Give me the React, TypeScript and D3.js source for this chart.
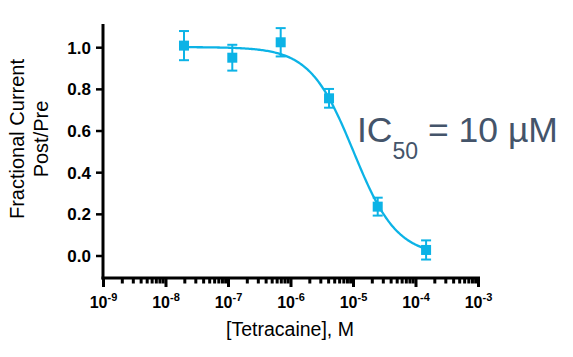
import React from "react";
import * as d3 from "d3";

const concentrations = [1.94e-8, 1.15e-7, 6.84e-7, 4.06e-6, 2.44e-5, 1.45e-4];
const fractions = [1.01, 0.952, 1.026, 0.757, 0.237, 0.029];
const errors = [0.07, 0.062, 0.068, 0.045, 0.043, 0.046];
const yTicks = [0, 0.2, 0.4, 0.6, 0.8, 1.0];
const xExponents = [-9, -8, -7, -6, -5, -4, -3];
const fitTop = 1.003;
const fitBottom = 0;
const fitIC50 = 1e-5;
const fitHill = 1.25;

const W = 573;
const H = 357;
const BLUE = "#0CB3E6";
const FONT = "Arial, 'Liberation Sans', Helvetica, sans-serif";

export default function App() {
  const x = d3.scaleLog().domain([1e-9, 1e-3]).range([103.5, 478.5]);
  const y = d3.scaleLinear().domain([0, 1]).range([256, 47.7]);
  const axisY = 278;
  const axisX = 103;

  const fit = (c: number) => fitBottom + (fitTop - fitBottom) / (1 + Math.pow(c / fitIC50, fitHill));
  const lo = Math.log10(concentrations[0]);
  const hi = Math.log10(concentrations[concentrations.length - 1]);
  const curvePts = d3.range(0, 201).map((i) => {
    const c = Math.pow(10, lo + ((hi - lo) * i) / 200);
    return [x(c), y(fit(c))] as [number, number];
  });
  const line = d3.line().curve(d3.curveLinear)(curvePts) || "";

  const minor: number[] = [];
  for (let k = -9; k < -3; k++) {
    for (let m = 2; m <= 9; m++) minor.push(m * Math.pow(10, k));
  }

  return (
    <svg width={W} height={H} style={{ position: "absolute", left: 0, top: 0, background: "#fff" }} fontFamily={FONT}>
      {/* fit curve */}
      <path d={line} fill="none" stroke={BLUE} strokeWidth={2.3} />
      {/* error bars and markers */}
      {concentrations.map((c, i) => {
        const cx = x(c);
        const y1 = y(fractions[i] + errors[i]);
        const y2 = y(fractions[i] - errors[i]);
        return (
          <g key={i}>
            <line x1={cx} x2={cx} y1={y1} y2={y2} stroke={BLUE} strokeWidth={2} />
            <line x1={cx - 5} x2={cx + 5} y1={y1} y2={y1} stroke={BLUE} strokeWidth={2} />
            <line x1={cx - 5} x2={cx + 5} y1={y2} y2={y2} stroke={BLUE} strokeWidth={2} />
            <rect x={cx - 5} y={y(fractions[i]) - 5} width={10} height={10} fill={BLUE} />
          </g>
        );
      })}
      {/* y axis */}
      <line x1={axisX} x2={axisX} y1={24} y2={axisY + 1.5} stroke="#000" strokeWidth={3} />
      {yTicks.map((t) => (
        <g key={t}>
          <line x1={axisX - 7} x2={axisX} y1={y(t)} y2={y(t)} stroke="#000" strokeWidth={2.5} />
          <text x={91} y={y(t)} dy="0.36em" textAnchor="end" fontSize={17} fontWeight="bold" fill="#000">
            {t.toFixed(1)}
          </text>
        </g>
      ))}
      {/* x axis */}
      <line x1={axisX - 1.5} x2={x(1e-3) + 1.5} y1={axisY} y2={axisY} stroke="#000" strokeWidth={3} />
      {minor.map((m, i) => (
        <line key={i} x1={x(m)} x2={x(m)} y1={axisY} y2={axisY + 5.5} stroke="#000" strokeWidth={3} />
      ))}
      {xExponents.map((e) => {
        const px = x(Math.pow(10, e));
        return (
          <g key={e}>
            <line x1={px} x2={px} y1={axisY} y2={axisY + 9} stroke="#000" strokeWidth={3} />
            <text x={px} y={307.5} textAnchor="middle" fontSize={16} fontWeight="bold" fill="#000">
              10
              <tspan fontSize={11} dy={-7}>
                {String(e)}
              </tspan>
            </text>
          </g>
        );
      })}
      {/* axis titles */}
      <text x={290} y={336} textAnchor="middle" fontSize={19.5} fill="#000">
        [Tetracaine], M
      </text>
      <text transform="translate(24,139) rotate(-90)" textAnchor="middle" fontSize={20} fill="#000">
        Fractional Current
      </text>
      <text transform="translate(48,139) rotate(-90)" textAnchor="middle" fontSize={20} fill="#000">
        Post/Pre
      </text>
      {/* IC50 annotation */}
      <text x={357} y={142} fontSize={35.5} fill="#44546A">
        IC
        <tspan fontSize={23} dy={17}>50</tspan>
        <tspan dy={-17}> = 10 µM</tspan>
      </text>
    </svg>
  );
}
